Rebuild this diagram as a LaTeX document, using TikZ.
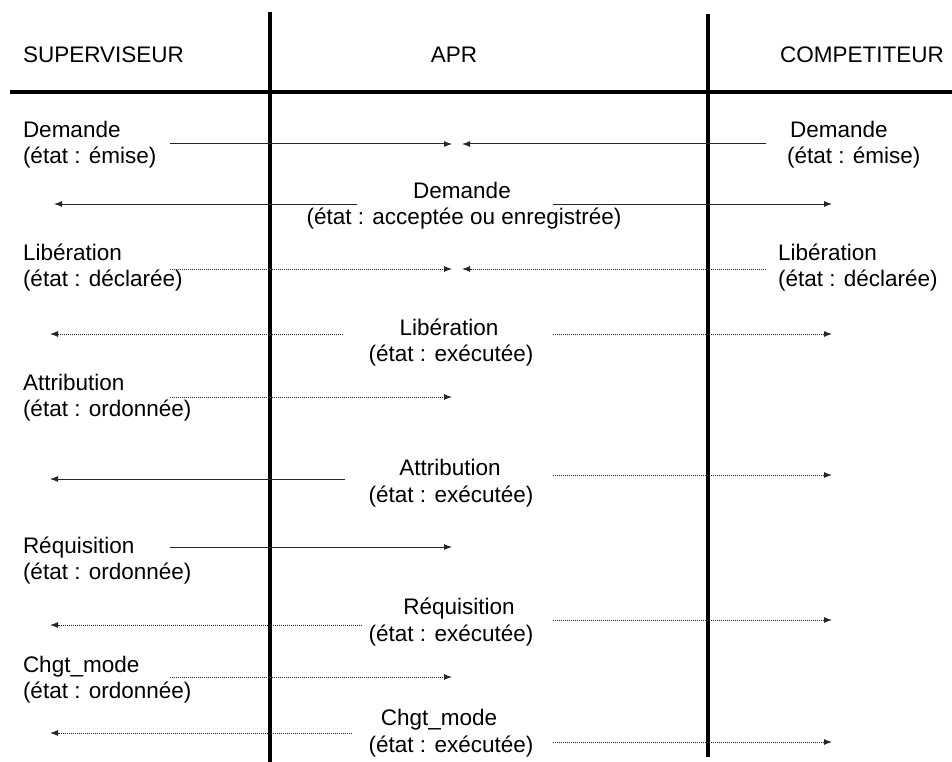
\documentclass[tikz,border=0pt]{standalone}
\usepackage{fontspec}
\setmainfont{Liberation Sans}
\usetikzlibrary{arrows.meta}
\tikzset{
  txt/.style={font=\fontsize{22.5}{26}\selectfont, inner sep=0pt, outer sep=0pt},
  lw/.style={txt, anchor=base west},
  lc/.style={txt, anchor=base},
  lane/.style={line width=4pt, black},
  rule/.style={line width=3.5pt, black},
  msg/.style={line width=1pt, black!85, -{Latex[length=8pt,width=6pt]}},
  msgdot/.style={msg, densely dotted},
}
\begin{document}
\begin{tikzpicture}[x=1pt,y=-1pt]
\useasboundingbox (0,0) rectangle (952,762);
\fill[white] (0,0) rectangle (952,762);

% lanes
\coordinate (v1t) at (270,12);
\coordinate (v1b) at (270,762);
\coordinate (v2t) at (708,14);
\coordinate (v2b) at (708,757);
\coordinate (hl) at (10,92);
\coordinate (hr) at (952,92);
\draw[lane] (v1t) -- (v1b);
\draw[lane] (v2t) -- (v2b);
\draw[rule] (hl) -- (hr);

% headers
\node[lw] (hsup) at (23,63) {SUPERVISEUR};
\node[lc] (hapr) at (454,63) {APR};
\node[lw] (hcomp) at (780,63) {COMPETITEUR};

% Row 1
\node[lw] (l1a) at (23,138) {Demande};
\node[lw] (l1b) at (23,164) {(état : émise)};
\node[lw] (r1a) at (790,138) {Demande};
\node[lw] (r1b) at (787,164) {(état : émise)};
\coordinate (a1s) at (170,144); \coordinate (a1e) at (452,144);
\coordinate (b1s) at (766,144); \coordinate (b1e) at (462,144);
\draw[msg] (a1s) -- (a1e);
\draw[msg] (b1s) -- (b1e);

% Row 2
\node[lc] (m2a) at (462,198) {Demande};
\node[lc] (m2b) at (464,224) {(état : acceptée ou enregistrée)};
\coordinate (c2s) at (357,204); \coordinate (c2e) at (54,204);
\coordinate (d2s) at (553,204); \coordinate (d2e) at (832,204);
\draw[msg] (c2s) -- (c2e);
\draw[msg] (d2s) -- (d2e);

% Row 3
\node[lw] (l3a) at (23,260) {Libération};
\node[lw] (l3b) at (23,286) {(état : déclarée)};
\node[lw] (r3a) at (778,260) {Libération};
\node[lw] (r3b) at (778,286) {(état : déclarée)};
\coordinate (a3s) at (170,269); \coordinate (a3e) at (452,269);
\coordinate (b3s) at (766,269); \coordinate (b3e) at (462,269);
\draw[msgdot] (a3s) -- (a3e);
\draw[msgdot] (b3s) -- (b3e);

% Row 4
\node[lc] (m4a) at (449,335) {Libération};
\node[lc] (m4b) at (451,361) {(état : exécutée)};
\coordinate (c4s) at (343,334); \coordinate (c4e) at (50,334);
\coordinate (d4s) at (553,334); \coordinate (d4e) at (832,334);
\draw[msgdot] (c4s) -- (c4e);
\draw[msgdot] (d4s) -- (d4e);

% Row 5
\node[lw] (l5a) at (23,390) {Attribution};
\node[lw] (l5b) at (23,416) {(état : ordonnée)};
\coordinate (a5s) at (170,397); \coordinate (a5e) at (452,397);
\draw[msgdot] (a5s) -- (a5e);

% Row 6
\node[lc] (m6a) at (450,475) {Attribution};
\node[lc] (m6b) at (451,502) {(état : exécutée)};
\coordinate (c6s) at (345,479); \coordinate (c6e) at (50,479);
\coordinate (d6s) at (553,475); \coordinate (d6e) at (832,475);
\draw[msg] (c6s) -- (c6e);
\draw[msgdot] (d6s) -- (d6e);

% Row 7
\node[lw] (l7a) at (23,553) {Réquisition};
\node[lw] (l7b) at (23,579) {(état : ordonnée)};
\coordinate (a7s) at (170,547); \coordinate (a7e) at (452,547);
\draw[msg] (a7s) -- (a7e);

% Row 8
\node[lc] (m8a) at (459,614) {Réquisition};
\node[lc] (m8b) at (451,641) {(état : exécutée)};
\coordinate (c8s) at (362,625); \coordinate (c8e) at (50,625);
\coordinate (d8s) at (553,620); \coordinate (d8e) at (832,620);
\draw[msgdot] (c8s) -- (c8e);
\draw[msgdot] (d8s) -- (d8e);

% Row 9
\node[lw] (l9a) at (23,672) {Chgt\_mode};
\node[lw] (l9b) at (23,698) {(état : ordonnée)};
\coordinate (a9s) at (170,677); \coordinate (a9e) at (452,677);
\draw[msgdot] (a9s) -- (a9e);

% Row 10
\node[lc] (m10a) at (439,725) {Chgt\_mode};
\node[lc] (m10b) at (451,752) {(état : exécutée)};
\coordinate (c10s) at (352,733); \coordinate (c10e) at (50,733);
\coordinate (d10s) at (553,742); \coordinate (d10e) at (832,742);
\draw[msgdot] (c10s) -- (c10e);
\draw[msgdot] (d10s) -- (d10e);
\end{tikzpicture}
\end{document}
